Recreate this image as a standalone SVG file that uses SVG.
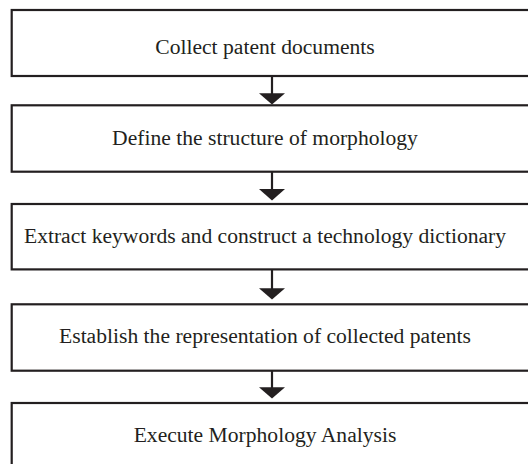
<svg xmlns="http://www.w3.org/2000/svg" width="528" height="464" viewBox="0 0 528 464">
<style>
.box{fill:#fff;stroke:#231f20;stroke-width:2.2}
.t{font-family:"Liberation Serif","Times New Roman",serif;font-size:21.6px;fill:#231f20;text-anchor:middle}
.c{stroke:#231f20;stroke-width:2.2;fill:none}
.h{fill:#231f20}
</style>
<rect width="528" height="464" fill="#fff"/>
<g id="n1"><rect class="box" x="11.7" y="10" width="530" height="66"/><text class="t" x="265" y="53.5">Collect patent documents</text></g>
<g id="n2"><rect class="box" x="11.7" y="105.3" width="530" height="66.4"/><text class="t" x="265" y="145">Define the structure of morphology</text></g>
<g id="n3"><rect class="box" x="11.7" y="204" width="530" height="65.4"/><text class="t" x="265" y="243">Extract keywords and construct a technology dictionary</text></g>
<g id="n4"><rect class="box" x="11.7" y="304.3" width="530" height="66.4"/><text class="t" x="265" y="343.3">Establish the representation of collected patents</text></g>
<g id="n5"><rect class="box" x="11.7" y="403" width="530" height="80"/><text class="t" x="265" y="441.7">Execute Morphology Analysis</text></g>
<g id="connectors">
<line class="c" x1="272" y1="76" x2="272" y2="94"/><polygon class="h" points="259,93.3 285,93.3 272,104.5"/>
<line class="c" x1="272" y1="171.7" x2="272" y2="190"/><polygon class="h" points="259,189 285,189 272,200.5"/>
<line class="c" x1="272" y1="269.4" x2="272" y2="289"/><polygon class="h" points="259,288.3 285,288.3 272,299.6"/>
<line class="c" x1="272" y1="370.7" x2="272" y2="388"/><polygon class="h" points="259,387.3 285,387.3 272,398.6"/>
</g>
</svg>
